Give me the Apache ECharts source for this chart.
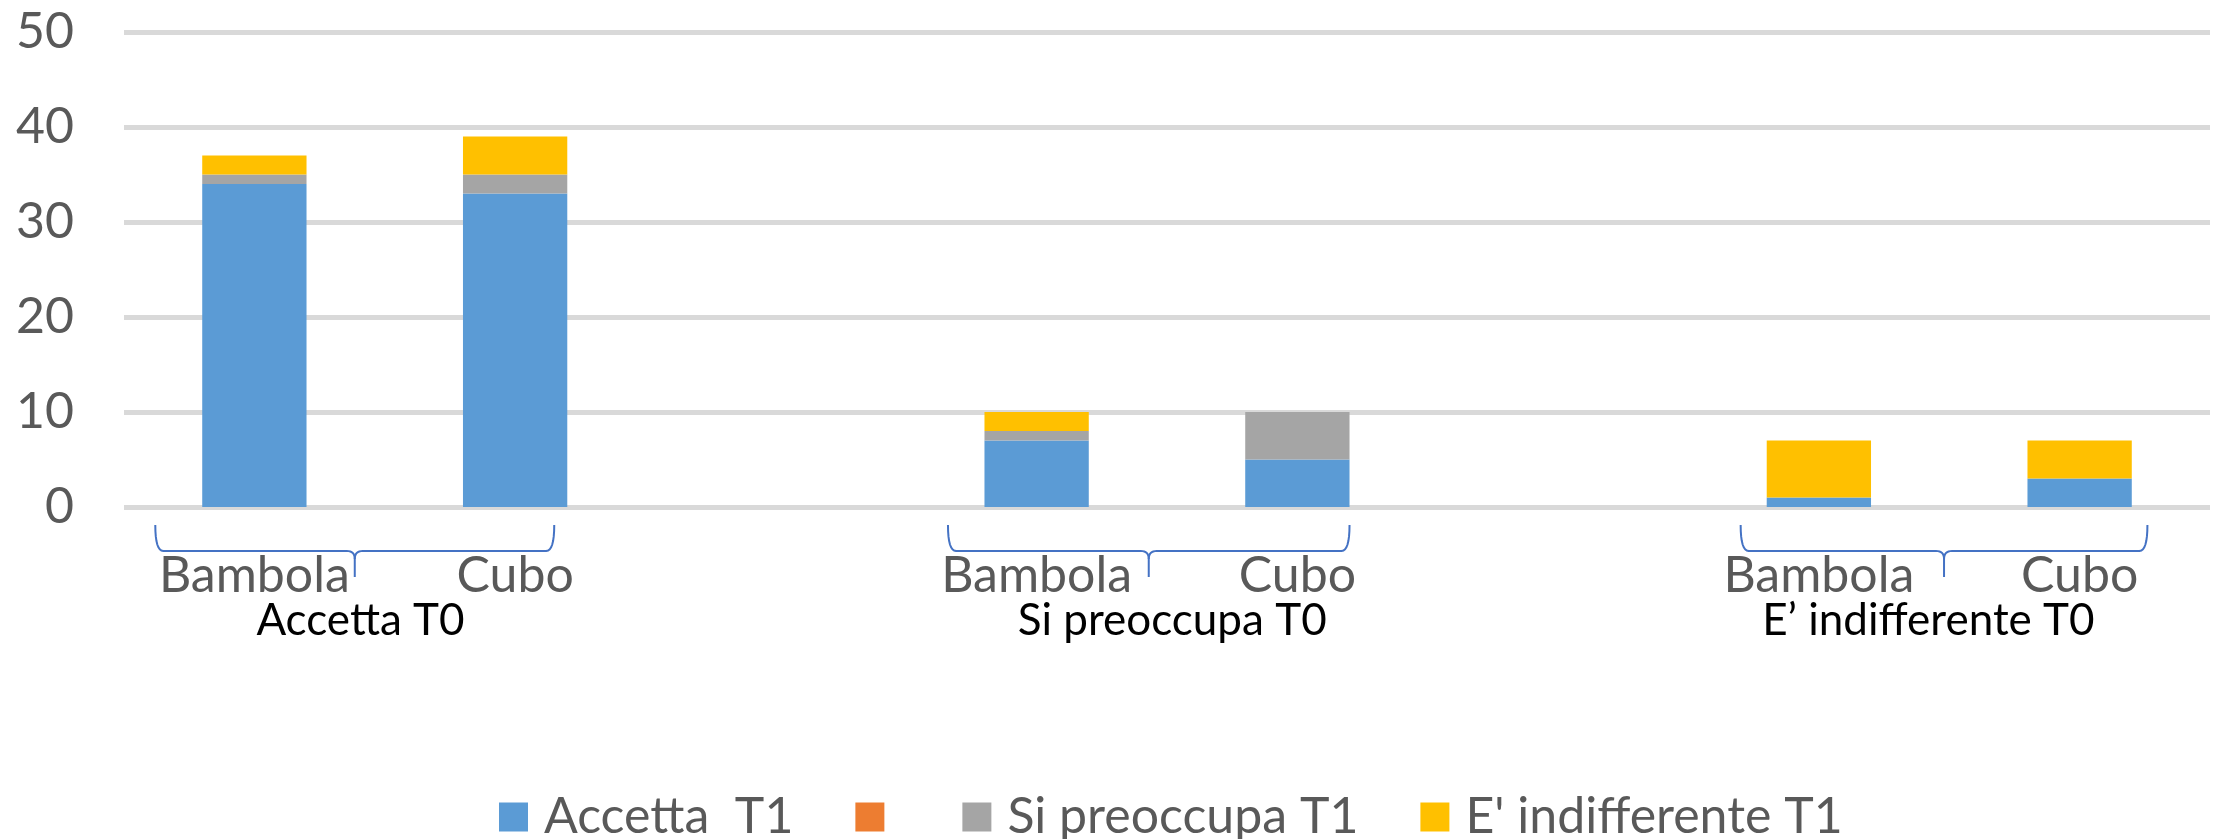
<!DOCTYPE html>
<html>
<head>
<meta charset="utf-8">
<script src="https://cdn.jsdelivr.net/npm/echarts@6/dist/echarts.min.js"></script>
<style>
html,body{margin:0;padding:0;background:#fff;}
#c{width:2216px;height:839px;}
</style>
</head>
<body>
<div id="c"></div>
<script>
// ---- data ----
var categories = ['Bambola', 'Cubo', '', 'Bambola', 'Cubo', '', 'Bambola', 'Cubo'];
var groupNames = ['Accetta T0', 'Si preoccupa T0', 'E\u2019 indifferente T0'];
var groupMembers = [[0, 1], [3, 4], [6, 7]];
var seriesNames = ['Accetta  T1', '\u200b', 'Si preoccupa T1', "E' indifferente T1"];
var accettaT1 = [34, 33, null, 7, 5, null, 1, 3];
var orangeSeries = [null, null, null, null, null, null, null, null];
var siPreoccupaT1 = [1, 2, null, 1, 5, null, 0, 0];
var indifferenteT1 = [2, 4, null, 2, 0, null, 6, 4];
var yTicks = { min: 0, max: 50, interval: 10 };

var colors = ['#5B9BD5', '#ED7D31', '#A5A5A5', '#FFC000'];
var FONT = 'Lato';

var chart = echarts.init(document.getElementById('c'), null, { renderer: 'canvas' });

function barSeries(name, data, color) {
  return {
    name: name, type: 'bar', stack: 'total', data: data,
    barCategoryGap: '60%',
    itemStyle: { color: color },
    emphasis: { disabled: true }
  };
}

chart.setOption({
  animation: false,
  backgroundColor: '#ffffff',
  color: colors,
  grid: { left: 124, right: 6, top: 32, bottom: 332, containLabel: false },
  xAxis: {
    type: 'category',
    data: categories,
    axisLine: { show: false },
    axisTick: { show: false },
    axisLabel: { interval: 0, color: '#595959', fontFamily: FONT, fontSize: 50, margin: 44 }
  },
  yAxis: {
    type: 'value',
    min: yTicks.min, max: yTicks.max, interval: yTicks.interval,
    axisLine: { show: false },
    axisTick: { show: false },
    axisLabel: { color: '#595959', fontFamily: FONT, fontSize: 50, margin: 50 },
    splitLine: { lineStyle: { color: '#D9D9D9', width: 5 } }
  },
  legend: {
    left: 494, top: 787,
    itemWidth: 29, itemHeight: 29, itemGap: 62,
    icon: 'rect',
    data: seriesNames,
    selectedMode: false,
    textStyle: { color: '#595959', fontFamily: FONT, fontSize: 50, padding: [0, 0, 0, 11] }
  },
  series: [
    barSeries(seriesNames[0], accettaT1, colors[0]),
    barSeries(seriesNames[1], orangeSeries, colors[1]),
    barSeries(seriesNames[2], siPreoccupaT1, colors[2]),
    barSeries(seriesNames[3], indifferenteT1, colors[3])
  ]
});

// ---- brackets and group labels (annotations placed from axis pixel positions) ----
function quad(p0, p1, p2, out) {
  for (var i = 1; i <= 8; i++) {
    var t = i / 8, u = 1 - t;
    out.push([u * u * p0[0] + 2 * u * t * p1[0] + t * t * p2[0],
              u * u * p0[1] + 2 * u * t * p1[1] + t * t * p2[1]]);
  }
}
var band = chart.convertToPixel({ xAxisIndex: 0 }, 1) - chart.convertToPixel({ xAxisIndex: 0 }, 0);
var baseY = chart.convertToPixel({ yAxisIndex: 0 }, 0);
var bracketLeftOff = [-0.38, -0.34, -0.30];
var bracketRightOff = [0.15, 0.20, 0.26];
var labelOff = [-0.093, 0.02, -0.08];
var graphics = [];
groupMembers.forEach(function (m, g) {
  var x0 = chart.convertToPixel({ xAxisIndex: 0 }, m[0]);
  var x1 = chart.convertToPixel({ xAxisIndex: 0 }, m[1]);
  var L = x0 + bracketLeftOff[g] * band;
  var R = x1 + bracketRightOff[g] * band;
  var T = (L + R) / 2;
  var top = baseY + 18, h = baseY + 44, tip = baseY + 70;
  var r = 8;
  var left = [[L, top]];
  quad([L, top], [L, h], [L + r, h], left);
  left.push([T - r, h]);
  quad([T - r, h], [T, h], [T, h + r], left);
  left.push([T, tip]);
  var right = [[T, h + r]];
  quad([T, h + r], [T, h], [T + r, h], right);
  right.push([R - r, h]);
  quad([R - r, h], [R, h], [R, top], right);
  [left, right].forEach(function (pts) {
    graphics.push({
      type: 'polyline', silent: true,
      shape: { points: pts },
      style: { fill: null, stroke: '#4472C4', lineWidth: 2 }
    });
  });
  var mid = (x0 + x1) / 2 + labelOff[g] * band;
  graphics.push({
    type: 'text', silent: true,
    x: mid, y: baseY + 114,
    style: { text: groupNames[g], fill: '#000000', font: '44px ' + FONT, textAlign: 'center', textVerticalAlign: 'middle' }
  });
});
chart.setOption({ graphic: graphics });
</script>
</body>
</html>
